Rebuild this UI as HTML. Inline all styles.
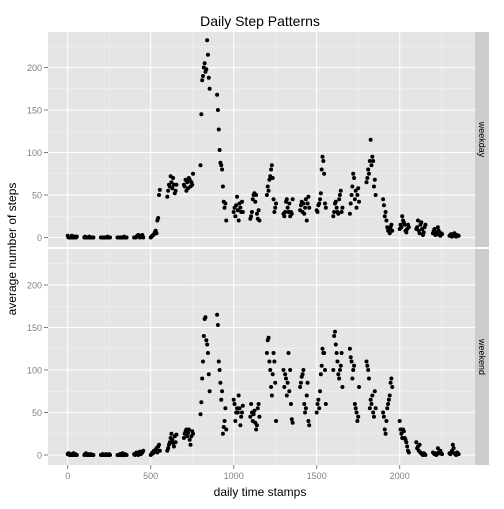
<!DOCTYPE html>
<html><head><meta charset="utf-8"><style>
body{margin:0;background:#fff;font-family:"Liberation Sans",sans-serif}
svg text{font-family:"Liberation Sans",sans-serif}
</style></head><body>
<svg id="chart" width="504" height="504" xmlns="http://www.w3.org/2000/svg">
<rect width="504" height="504" fill="#fff"/>
<text x="260" y="26" font-size="14" text-anchor="middle">Daily Step Patterns</text>
<text x="260" y="496" font-size="12" text-anchor="middle">daily time stamps</text>
<text transform="translate(16,249) rotate(-90)" font-size="12" text-anchor="middle">average number of steps</text>
<g id="plots"></g>
</svg>
<script>
const weekdaySteps=[
2,0,0,0,0,2,0,1,0,1,0,1, 0,1,0,0,0,0,1,0,0,0,0,0, 0,0,0,0,0,0,0,0,1,0,0,0, 0,0,0,0,0,0,0,0,1,0,0,0,
0,0,0,1,2,3,1,0,2,1,3,0, 0,1,2,3,4,6,8,5,20,23,50,56, 48,55,62,60,72,65,58,70,62,52,55,62, 62,60,68,55,65,58,70,68,60,65,62,75,
85,145,185,190,200,205,195,198,232,215,188,175, 168,150,127,103,88,85,80,60,42,35,40,20, 30,35,25,38,48,32,20,40,35,30,42,30, 22,25,30,45,50,52,42,50,28,22,32,20,
50,60,55,68,72,80,85,70,45,30,35,40, 28,25,30,42,45,35,30,40,25,30,28,45, 32,38,42,30,40,28,35,45,20,40,48,35, 32,30,38,40,45,52,80,95,90,75,40,35,
25,30,40,42,35,30,28,45,50,55,30,35, 28,40,50,60,75,70,45,55,35,50,58,42, 65,70,80,75,90,115,85,95,90,60,68,50, 45,38,25,30,20,12,8,10,5,12,15,8,
10,15,12,25,20,18,15,8,6,10,15,12, 10,12,20,8,5,15,18,10,3,6,12,15, 5,8,10,3,6,4,12,8,3,2,5,4, 2,3,4,1,2,3,5,2,1,3,2,2];
const weekendSteps=[
1,2,0,0,1,0,0,2,0,1,0,0, 0,1,2,0,0,1,0,0,1,0,0,0, 0,0,1,0,0,0,1,0,0,0,1,0, 0,0,0,1,0,0,2,0,0,1,0,0,
1,0,2,3,1,0,2,4,1,2,3,5, 0,1,3,2,5,4,6,8,3,10,12,5, 5,8,12,15,20,25,18,14,10,22,15,24, 20,25,28,30,22,26,30,18,12,22,28,25,
48,62,90,110,140,160,162,135,130,120,95,75, 165,153,110,100,85,65,75,25,33,40,55,30, 65,60,40,50,55,50,70,55,35,45,50,58, 45,60,50,40,48,52,38,30,35,55,60,45,
120,135,138,110,100,80,70,95,120,110,85,40, 100,80,95,90,70,85,120,75,100,60,42,38, 80,85,92,95,100,60,50,55,70,85,40,35, 50,60,65,55,75,95,105,125,120,120,100,60,
100,140,145,130,120,110,95,90,100,105,120,80, 125,115,110,90,100,105,60,55,50,40,45,80, 110,105,100,90,55,65,60,70,50,45,75,55, 50,45,30,25,40,55,60,65,70,85,90,80,
40,30,25,20,30,28,20,18,15,10,5,3, 15,8,10,5,12,3,2,1,0,2,1,0, 3,2,1,2,0,1,8,3,2,5,2,1, 2,1,3,5,12,8,2,1,0,3,2,1];
const xTicks=[0,500,1000,1500,2000];
const yTicks=[0,50,100,150,200];
const panelNames=["weekday","weekend"];

const intervals=[];
for(let h=0;h<24;h++)for(let m=0;m<60;m+=5)intervals.push(h*100+m);

const NS="http://www.w3.org/2000/svg";
const g=document.getElementById('plots');
const L=48,R=475;
const xs=v=>67.7+(v-0)*(83/500);
function mk(t,a,p){const e=document.createElementNS(NS,t);for(const k in a)e.setAttribute(k,a[k]);(p||g).appendChild(e);return e;}
const panels=[{top:32,bot:247,zero:237.5,data:weekdaySteps},{top:249,bot:465,zero:455,data:weekendSteps}];
panels.forEach((p,pi)=>{
  const ys=v=>p.zero-v*0.85;
  const bg=mk('rect',{x:L,y:p.top,width:R-L,height:p.bot-p.top,fill:'#E5E5E5'});
  
  
  for(let v=-25;v<=250;v+=50){const y=ys(v);if(y>p.top&&y<p.bot)mk('line',{x1:L,x2:R,y1:y,y2:y,stroke:'#F2F2F2','stroke-width':0.5});}
  for(let v=-250;v<=2500;v+=500){const x=xs(v);if(x>L&&x<R)mk('line',{x1:x,x2:x,y1:p.top,y2:p.bot,stroke:'#F2F2F2','stroke-width':0.5});}
  yTicks.forEach(v=>{const y=ys(v);
    mk('line',{x1:L,x2:R,y1:y,y2:y,stroke:'#fff','stroke-width':1});
    mk('line',{x1:44,x2:48,y1:y,y2:y,stroke:'#7F7F7F','stroke-width':1});
    const t=mk('text',{x:42,y:y+3.5,'font-size':9,fill:'#7F7F7F','text-anchor':'end'});t.textContent=v;
    
    
  });
  xTicks.forEach(v=>{const x=xs(v);mk('line',{x1:x,x2:x,y1:p.top,y2:p.bot,stroke:'#fff','stroke-width':1});});
  p.data.forEach((v,i)=>{
    const c=mk('circle',{cx:xs(intervals[i]),cy:ys(v),r:2,fill:'#000'});
    
    
  });
  const s=mk('rect',{x:R,y:p.top,width:14,height:p.bot-p.top,fill:'#CCCCCC'});
  
  
  const cy=(p.top+p.bot)/2;
  const st=mk('text',{x:0,y:0,'font-size':9,'text-anchor':'middle',transform:`translate(479,${cy}) rotate(90)`});
  st.textContent=panelNames[pi];
  
  
});
xTicks.forEach(v=>{const x=xs(v);
  mk('line',{x1:x,x2:x,y1:465,y2:469,stroke:'#7F7F7F','stroke-width':1});
  const t=mk('text',{x:x,y:479,'font-size':9,fill:'#7F7F7F','text-anchor':'middle'});t.textContent=v;
  
  
});
</script>
</body></html>
